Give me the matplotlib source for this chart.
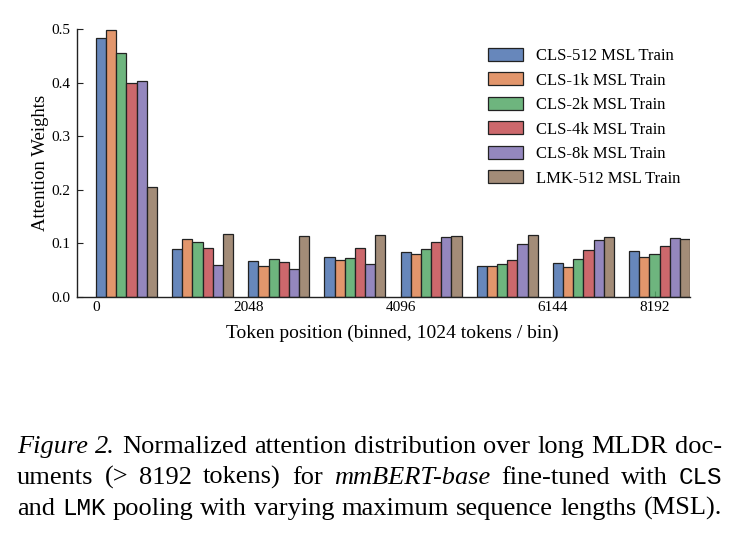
import matplotlib
matplotlib.use("Agg")
import matplotlib.pyplot as plt
import numpy as np
from matplotlib.colors import to_rgb

# ---------------- data ----------------
bin_starts = [0, 1024, 2048, 3072, 4096, 5120, 6144, 7168]
series_names = ["CLS-512 MSL Train", "CLS-1k MSL Train", "CLS-2k MSL Train",
                "CLS-4k MSL Train", "CLS-8k MSL Train", "LMK-512 MSL Train"]
cls_512 = [0.483, 0.089, 0.067, 0.0745, 0.084, 0.057, 0.0626, 0.0857]
cls_1k = [0.499, 0.1086, 0.058, 0.069, 0.0806, 0.057, 0.0559, 0.0745]
cls_2k = [0.456, 0.102, 0.071, 0.072, 0.0894, 0.0614, 0.0708, 0.080]
cls_4k = [0.400, 0.091, 0.065, 0.0905, 0.1024, 0.0689, 0.088, 0.096]
cls_8k = [0.403, 0.059, 0.052, 0.062, 0.1117, 0.0993, 0.1067, 0.1104]
lmk_512 = [0.205, 0.117, 0.1136, 0.1154, 0.114, 0.116, 0.1123, 0.108]
x_tick_labels = ["0", "2048", "4096", "6144", "8192"]
y_ticks = [0.0, 0.1, 0.2, 0.3, 0.4, 0.5]

palette = ["#4C72B0", "#DD8452", "#55A868", "#C44E52", "#8172B3", "#937860"]
all_series = [cls_512, cls_1k, cls_2k, cls_4k, cls_8k, lmk_512]

plt.rcParams["font.family"] = ["Liberation Serif", "DejaVu Serif"]

W_PX, H_PX = 740, 540
fig = plt.figure(figsize=(7.4, 5.4), dpi=100)
ax = fig.add_axes([77 / W_PX, (H_PX - 297) / H_PX, (690 - 77) / W_PX, (297 - 29) / H_PX])

bin_w = 1024
bar_w = bin_w * 0.8 / len(all_series)
xs = np.array(bin_starts, dtype=float)
for j, (name, vals, col) in enumerate(zip(series_names, all_series, palette)):
    r, g, b = to_rgb(col)
    ax.bar(xs + j * bar_w, vals, width=bar_w, align="edge",
           color=(r, g, b, 0.85), edgecolor="#222222", linewidth=0.9,
           label=name, zorder=2)

ax.set_xlim(-256, bin_starts[-1] + 0.8 * bin_w)
ax.set_ylim(0, 0.5)
ax.set_yticks(y_ticks)
ax.set_yticklabels([f"{v:.1f}" for v in y_ticks])
tick_pos = [0, 2048, 4096, 6144, 7518]
ax.set_xticks(tick_pos)
ax.set_xticklabels(x_tick_labels)
ax.tick_params(axis="both", direction="in", labelsize=11, colors="#222222",
               labelcolor="black")
ax.tick_params(axis="y", length=4.5, width=0.8, pad=5)
ax.tick_params(axis="x", length=4, width=0.8, pad=3)
for s in ["top", "right"]:
    ax.spines[s].set_visible(False)
for s in ["left", "bottom"]:
    ax.spines[s].set_color("#222222")
    ax.spines[s].set_linewidth(1.0)

ax.set_ylabel("Attention Weights", fontsize=13.5)
ax.yaxis.set_label_coords(-0.046, 0.5)
ax.set_xlabel("Token position (binned, 1024 tokens / bin)", fontsize=14)
ax.xaxis.set_label_coords(0.514, -0.102)

ax.legend(loc="upper left", bbox_to_anchor=(488 / W_PX, 1 - 48 / H_PX),
          bbox_transform=fig.transFigure, frameon=False, fontsize=12,
          handlelength=2.1, handleheight=0.8, handletextpad=0.75,
          labelspacing=0.5, borderpad=0, borderaxespad=0)

# ---------------- caption ----------------
caption_lines = [
    [("Figure", "i"), ("2.", "i"), ("Normalized", "n"), ("attention", "n"),
     ("distribution", "n"), ("over", "n"), ("long", "n"), ("MLDR", "n"), ("doc-", "n")],
    [("uments", "n"), ("(>", "n"), ("8192", "n"), ("tokens)", "n"), ("for", "n"),
     ("mmBERT-base", "i"), ("fine-tuned", "n"), ("with", "n"), ("CLS", "m")],
    [("and", "n"), ("LMK", "m"), ("pooling", "n"), ("with", "n"), ("varying", "n"),
     ("maximum", "n"), ("sequence", "n"), ("lengths", "n"), ("(MSL).", "n")],
]
baselines = [453, 484, 515]
cap_size = 19
renderer = fig.canvas.get_renderer()


def style_kw(st):
    if st == "i":
        return dict(family=["Liberation Serif"], style="italic")
    if st == "m":
        return dict(family=["Liberation Mono"], fontsize=cap_size * 0.92)
    return dict(family=["Liberation Serif"])


for words, yb in zip(caption_lines, baselines):
    x0, x1 = 17, 722
    texts, widths = [], []
    for w, st in words:
        kw = dict(fontsize=cap_size)
        kw.update(style_kw(st))
        t = fig.text(0, 1 - yb / H_PX, w, va="baseline", ha="left", **kw)
        widths.append(t.get_window_extent(renderer).width)
        texts.append(t)
    gap = (x1 - x0 - sum(widths)) / (len(words) - 1)
    x = x0
    for t, wd in zip(texts, widths):
        t.set_x(x / W_PX)
        x += wd + gap

fig.savefig("out.png", dpi=100)
